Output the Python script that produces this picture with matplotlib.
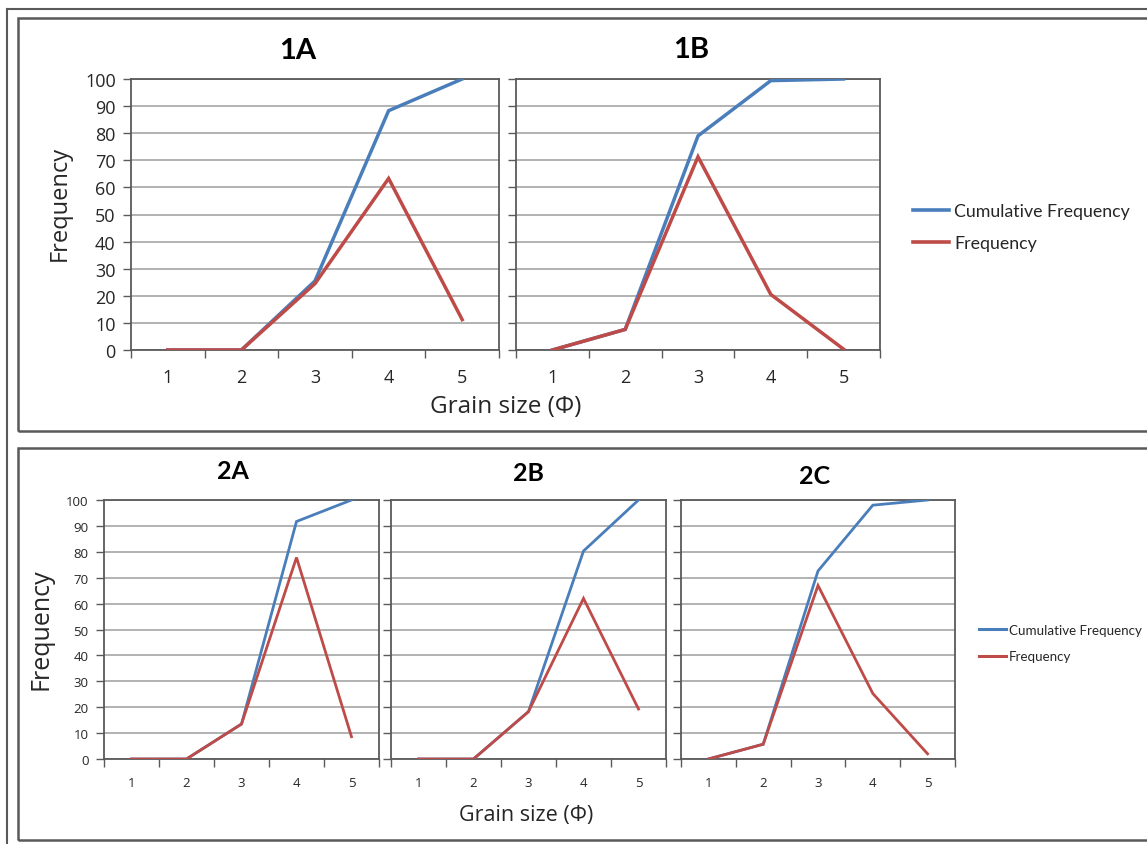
import matplotlib
matplotlib.use("Agg")
import matplotlib.pyplot as plt
from matplotlib.lines import Line2D
from matplotlib.patches import Rectangle
from matplotlib.ticker import FixedLocator, NullFormatter

# ---- data -----------------------------------------------------------------
grain_size = [1, 2, 3, 4, 5]
tick_labels = ["1", "2", "3", "4", "5"]

cum_1a = [0, 0, 25.5, 88.3, 100]
freq_1a = [0, 0, 24.5, 63.3, 11.2]

cum_1b = [0, 7.6, 79.0, 99.4, 100]
freq_1b = [0, 7.6, 71.3, 20.5, 0.3]

cum_2a = [0, 0, 13.5, 91.7, 100]
freq_2a = [0, 0, 13.5, 77.8, 8.6]

cum_2b = [0, 0, 18.3, 80.3, 100]
freq_2b = [0, 0, 18.3, 62.0, 19.3]

cum_2c = [0, 5.7, 72.6, 98.0, 100]
freq_2c = [0, 5.7, 67.0, 25.3, 2.0]

series_names = ["Cumulative Frequency", "Frequency"]
y_ticks = [0, 10, 20, 30, 40, 50, 60, 70, 80, 90, 100]

BLUE = "#4a7ebb"
RED = "#be4b48"
GRID = "#a6a6a6"
SPINE = "#5a5a5a"
TEXT = "#262626"

W, H = 1147, 845
fig = plt.figure(figsize=(W / 100, H / 100), dpi=100)
fig.patch.set_facecolor("white")


def px_axes(x0, y0, x1, y1):
    return fig.add_axes([x0 / W, 1 - y1 / H, (x1 - x0) / W, (y1 - y0) / H])


def draw_panel(ax, cum, freq, show_ylabels, tick_fs, lw):
    ax.plot(grain_size, cum, color=BLUE, lw=lw, solid_joinstyle="miter", zorder=3)
    ax.plot(grain_size, freq, color=RED, lw=lw, solid_joinstyle="miter", zorder=4)
    ax.set_xlim(0.5, 5.5)
    ax.set_ylim(0, 100)
    ax.yaxis.set_major_locator(FixedLocator(y_ticks))
    ax.grid(axis="y", color=GRID, lw=1.2, zorder=1)
    ax.set_axisbelow(True)
    ax.set_xticks(grain_size)
    ax.set_xticklabels(tick_labels, fontsize=tick_fs, color=TEXT, family="Open Sans")
    ax.xaxis.set_minor_locator(FixedLocator([0.5, 1.5, 2.5, 3.5, 4.5, 5.5]))
    ax.xaxis.set_minor_formatter(NullFormatter())
    ax.tick_params(axis="x", which="major", length=0, pad=14)
    ax.tick_params(axis="x", which="minor", length=6, width=1.0, color=SPINE,
                   direction="out")
    ax.tick_params(axis="y", length=6, width=1.0, color=SPINE, direction="out",
                   labelsize=tick_fs, labelcolor=TEXT, pad=5)
    if show_ylabels:
        for t in ax.get_yticklabels():
            t.set_family("Open Sans")
    else:
        ax.set_yticklabels([])
    for s in ax.spines.values():
        s.set_color(SPINE)
        s.set_linewidth(1.3)


# ---- top row ---------------------------------------------------------------
ax1a = px_axes(131, 80, 499, 351)
draw_panel(ax1a, cum_1a, freq_1a, True, 13, 2.5)
ax1b = px_axes(516, 80, 880, 351)
draw_panel(ax1b, cum_1b, freq_1b, False, 13, 2.5)
for ax in (ax1a, ax1b):
    ax.tick_params(axis="x", which="major", pad=13)

fig.text(298 / W, 1 - 51 / H, "1A", ha="center", va="center", fontsize=21,
         fontweight="bold", family="Lato", color="black")
fig.text(691 / W, 1 - 50 / H, "1B", ha="center", va="center", fontsize=21,
         fontweight="bold", family="Lato", color="black")
fig.text(60 / W, 1 - 203 / H, "Frequency", ha="center", va="center", rotation=90,
         fontsize=17, family="Open Sans", color=TEXT)
fig.text(506 / W, 1 - 407 / H, "Grain size (Φ)", ha="center", va="center",
         fontsize=17.5, family="Open Sans", color=TEXT)

# legend, top row
fig.legend(handles=[Line2D([], [], color=BLUE, lw=2.6), Line2D([], [], color=RED, lw=2.6)],
           labels=series_names, loc="center left",
           bbox_to_anchor=(897 / W, 1 - 228 / H), frameon=False,
           prop={"family": "Lato", "size": 12.8}, handlelength=2.05,
           handletextpad=0.28, labelspacing=0.9, labelcolor=TEXT)

# ---- bottom row ------------------------------------------------------------
ax2a = px_axes(104, 501, 379, 760)
draw_panel(ax2a, cum_2a, freq_2a, True, 9.5, 2.0)
ax2b = px_axes(391, 501, 666, 760)
draw_panel(ax2b, cum_2b, freq_2b, False, 9.5, 2.0)
ax2c = px_axes(681, 501, 955, 760)
draw_panel(ax2c, cum_2c, freq_2c, False, 9.5, 2.0)
for ax in (ax2a, ax2b, ax2c):
    ax.tick_params(axis="x", which="major", pad=12)

for label, x, y in (("2A", 233, 472), ("2B", 528, 474), ("2C", 815, 477)):
    fig.text(x / W, 1 - y / H, label, ha="center", va="center", fontsize=18,
             fontweight="bold", family="Lato", color="black")
fig.text(41 / W, 1 - 629 / H, "Frequency", ha="center", va="center", rotation=90,
         fontsize=18, family="Open Sans", color=TEXT)
fig.text(526 / W, 1 - 816 / H, "Grain size (Φ)", ha="center", va="center",
         fontsize=15.5, family="Open Sans", color=TEXT)

fig.legend(handles=[Line2D([], [], color=BLUE, lw=2.2), Line2D([], [], color=RED, lw=2.2)],
           labels=series_names, loc="center left",
           bbox_to_anchor=(967 / W, 1 - 644 / H), frameon=False,
           prop={"family": "Lato", "size": 9.6}, handlelength=2.0,
           handletextpad=0.25, labelspacing=1.1, labelcolor=TEXT)

# ---- surrounding frames ----------------------------------------------------
FRAME = "#595959"
fig.add_artist(Line2D([7.5 / W, 7.5 / W], [0, 1 - 10 / H], color=FRAME, lw=1.5,
                      transform=fig.transFigure))
fig.add_artist(Line2D([7.5 / W, 1], [1 - 10 / H, 1 - 10 / H], color=FRAME, lw=1.5,
                      transform=fig.transFigure))
for (x0, y0, y1) in ((17.5, 19, 432), (17.5, 449, 841)):
    fig.add_artist(Rectangle((x0 / W, 1 - y1 / H), (W + 10 - x0) / W, (y1 - y0) / H,
                             fill=False, edgecolor=FRAME, lw=1.8,
                             transform=fig.transFigure))

fig.savefig("out.png", dpi=100, facecolor="white")
